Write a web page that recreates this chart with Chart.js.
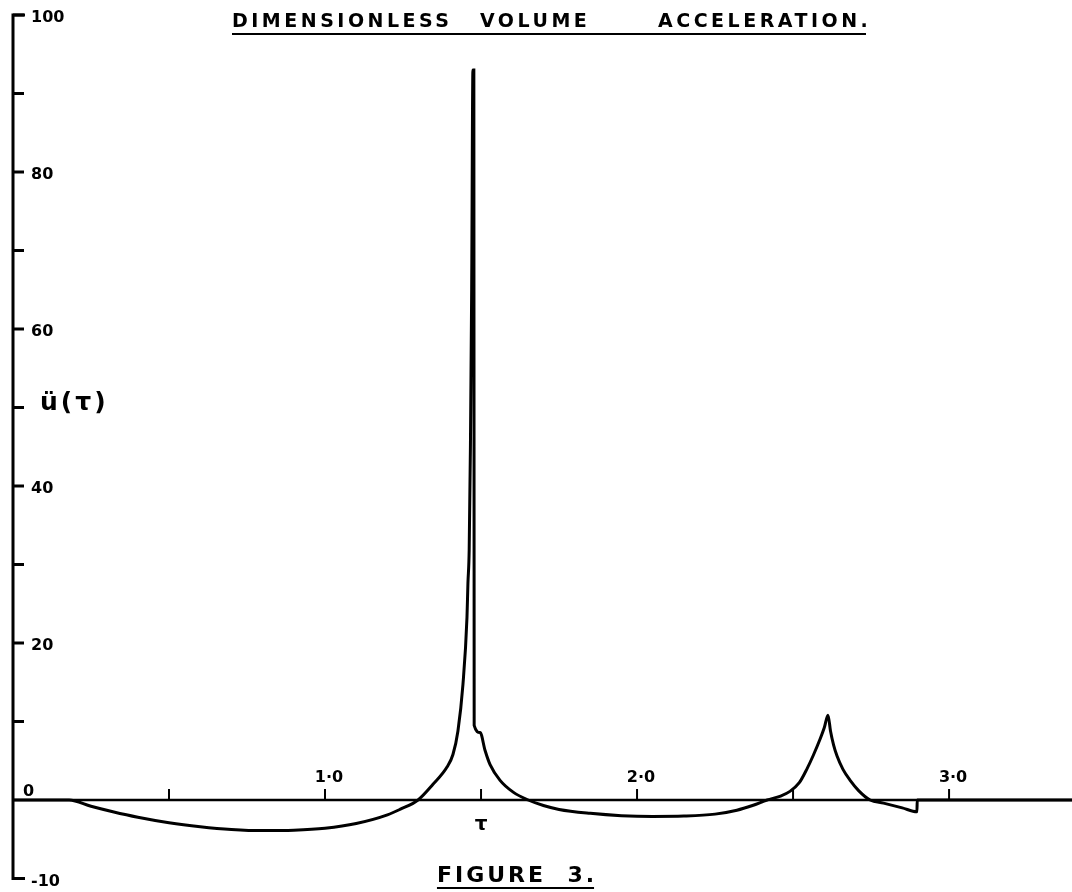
<!DOCTYPE html>
<html>
<head>
<meta charset="utf-8">
<title>Dimensionless Volume Acceleration</title>
<script src="https://cdn.jsdelivr.net/npm/chart.js@4.4.1/dist/chart.umd.min.js"></script>
<style>
  html, body { margin: 0; padding: 0; background: #fff; }
  canvas { display: block; }
</style>
</head>
<body>
<canvas id="accelChart" width="1072" height="892"></canvas>
<script>
// Values
const tau = [0, 0.18, 0.25, 0.32, 0.40, 0.50, 0.60, 0.70, 0.80, 0.90, 1.00, 1.10, 1.20, 1.24, 1.298,
  1.346, 1.391, 1.410, 1.426, 1.442, 1.455, 1.458, 1.462, 1.466, 1.470, 1.474, 1.477, 1.478,
  1.497, 1.513, 1.529, 1.561, 1.603, 1.651, 1.70, 1.75, 1.85, 1.95, 2.05, 2.15, 2.25, 2.32, 2.37, 2.417,
  2.46, 2.49, 2.52, 2.545, 2.565, 2.587, 2.60, 2.612, 2.62, 2.63, 2.641, 2.66, 2.683, 2.71, 2.747,
  2.79, 2.85, 2.897, 2.898, 3.394];
const accel = [0, 0, -0.8, -1.5, -2.2, -2.9, -3.4, -3.75, -3.9, -3.85, -3.6, -3.0, -1.9, -1.2, 0,
  2.0, 4.2, 5.8, 8.8, 14.7, 23.3, 27.6, 31.8, 45, 65, 93, 93, 9.5,
  8.6, 6.3, 4.5, 2.5, 1.0, 0, -0.7, -1.2, -1.7, -2.0, -2.1, -2.05, -1.8, -1.3, -0.7, 0,
  0.5, 1.1, 2.2, 4.0, 5.7, 7.8, 9.2, 10.8, 8.8, 7.0, 5.6, 3.9, 2.5, 1.2, 0,
  -0.4, -1.0, -1.5, 0, 0];

const yTicks = [100, 90, 80, 70, 60, 50, 40, 30, 20, 10, -10];
const yLabels = [100, 80, 60, 40, 20, -10];
const xTicks = [0.5, 1.0, 1.5, 2.0, 2.5, 3.0];
const xLabels = [1.0, 2.0, 3.0];
const titleWords = ['DIMENSIONLESS', 'VOLUME', 'ACCELERATION.'];

const ink = '#000';
const font = '"DejaVu Sans", "Liberation Sans", sans-serif';

// hand-drawn style axes, ticks and lettering
const paperAxes = {
  id: 'paperAxes',
  beforeDatasetsDraw(chart) {
    const { ctx, scales: { x, y } } = chart;
    const x0 = x.getPixelForValue(0);
    const y0 = y.getPixelForValue(0);
    const yTop = y.getPixelForValue(100);
    const yBot = y.getPixelForValue(-10);
    ctx.save();
    ctx.strokeStyle = ink;
    ctx.lineCap = 'butt';

    // vertical axis with end hooks
    ctx.lineWidth = 3;
    ctx.beginPath();
    ctx.moveTo(x0 + 12, yTop);
    ctx.lineTo(x0, yTop);
    ctx.lineTo(x0, yBot);
    ctx.lineTo(x0 + 12, yBot);
    ctx.stroke();

    yTicks.forEach(v => {
      const py = y.getPixelForValue(v);
      ctx.beginPath();
      ctx.moveTo(x0, py);
      ctx.lineTo(x0 + 11, py);
      ctx.stroke();
    });

    // horizontal axis
    ctx.lineWidth = 2.5;
    ctx.beginPath();
    ctx.moveTo(x0, y0);
    ctx.lineTo(chart.width, y0);
    ctx.stroke();

    ctx.lineWidth = 2;
    xTicks.forEach(v => {
      const px = x.getPixelForValue(v);
      ctx.beginPath();
      ctx.moveTo(px, y0);
      ctx.lineTo(px, y0 - 11);
      ctx.stroke();
    });
    ctx.restore();
  },
  afterDraw(chart) {
    const { ctx, scales: { x, y } } = chart;
    const x0 = x.getPixelForValue(0);
    const y0 = y.getPixelForValue(0);
    ctx.save();
    ctx.fillStyle = ink;
    ctx.strokeStyle = ink;

    // y labels
    ctx.font = 'bold 16px ' + font;
    ctx.textAlign = 'left';
    ctx.textBaseline = 'middle';
    yLabels.forEach(v => {
      ctx.fillText(String(v), x0 + 18, y.getPixelForValue(v) + 3);
    });
    ctx.fillText('0', x0 + 10, y0 - 8);

    // x labels
    ctx.textAlign = 'center';
    xLabels.forEach(v => {
      const px = x.getPixelForValue(v) + 4;
      ctx.fillText(v.toFixed(1).replace('.', '·'), px, y0 - 22);
    });
    ctx.font = 'bold 20px ' + font;
    ctx.fillText('τ', x.getPixelForValue(1.5), y0 + 25);

    // y axis name
    ctx.textAlign = 'left';
    ctx.font = 'bold 25px ' + font;
    ctx.letterSpacing = '3px';
    ctx.fillText('ü(τ)', x0 + 27, y.getPixelForValue(50) - 4);

    // title, word by word like the hand lettering
    ctx.font = 'bold 19px ' + font;
    ctx.letterSpacing = '3.5px';
    ctx.textBaseline = 'alphabetic';
    const wordX = [232, 480, 658];
    titleWords.forEach((w, i) => ctx.fillText(w, wordX[i], 27));
    ctx.lineWidth = 2;
    ctx.beginPath();
    ctx.moveTo(232, 34);
    ctx.lineTo(866, 34);
    ctx.stroke();

    // figure caption
    ctx.font = 'bold 22px ' + font;
    ctx.letterSpacing = '3px';
    ctx.textAlign = 'center';
    const cap = 'FIGURE  3.';
    const cw = ctx.measureText(cap).width;
    ctx.fillText(cap, 517, 882);
    ctx.beginPath();
    ctx.moveTo(517 - cw / 2, 888);
    ctx.lineTo(517 + cw / 2 - 3, 888);
    ctx.stroke();
    ctx.restore();
  }
};

document.addEventListener('DOMContentLoaded', () => {
  new Chart(document.getElementById('accelChart'), {
    type: 'line',
    data: {
      datasets: [{
        data: tau.map((t, i) => ({ x: t, y: accel[i] })),
        borderColor: ink,
        borderWidth: 3,
        pointRadius: 0,
        cubicInterpolationMode: 'monotone',
        fill: false,
        clip: false
      }]
    },
    options: {
      responsive: false,
      animation: false,
      layout: { padding: { left: 13, top: 15, right: 0, bottom: 13.5 } },
      plugins: { legend: { display: false }, tooltip: { enabled: false }, title: { display: false } },
      scales: {
        x: { type: 'linear', min: 0, max: 3.394, display: false },
        y: { type: 'linear', min: -10, max: 100, display: false }
      }
    },
    plugins: [paperAxes]
  });
});
</script>
</body>
</html>
